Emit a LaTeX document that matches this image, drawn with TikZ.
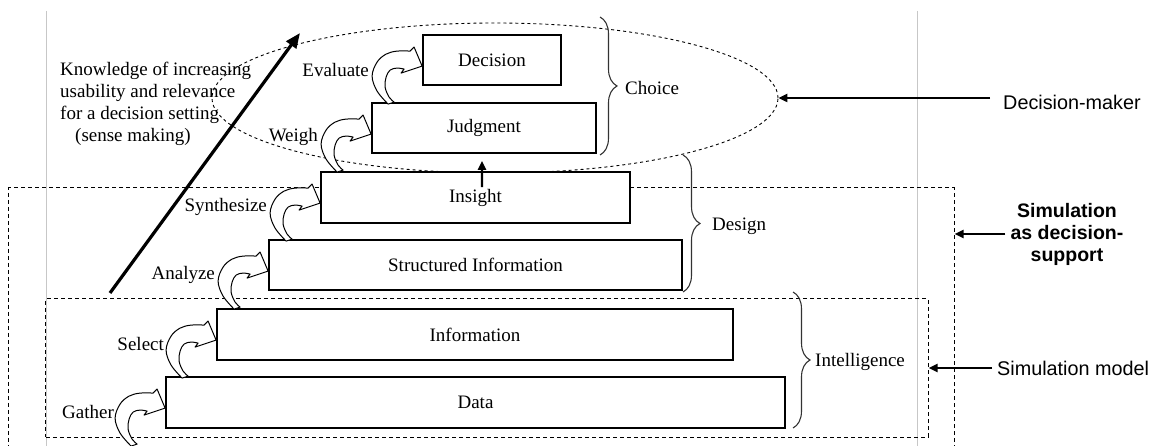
\documentclass[tikz,border=0pt]{standalone}
\usepackage{fontspec}
\setmainfont{Liberation Serif}
\newfontfamily\arialfont{Liberation Sans}
\usetikzlibrary{decorations.pathreplacing,arrows.meta,shapes.geometric,calc}

\tikzset{
  serifsz/.style={font=\fontsize{19bp}{22bp}\selectfont},
  stage/.style={draw, line width=1.8bp, fill=white, minimum height=50bp,
    inner sep=0pt, serifsz},
  steplabel/.style={inner sep=0pt, anchor=east, serifsz},
  phaselabel/.style={inner sep=0pt, anchor=west, serifsz},
  sidelabel/.style={inner sep=0pt, font=\arialfont\fontsize{19.8bp}{22bp}\selectfont},
  dashbox/.style={draw, line width=1bp, dash pattern=on 4bp off 3bp, inner sep=0pt},
  phasebrace/.style={draw=black!80, line width=1.1bp,
    decorate, decoration={brace, amplitude=17bp}},
  pointer/.style={line width=2.2bp, -{Triangle[length=9bp,width=8bp]}},
  frameline/.style={draw=black!22, line width=0.9bp},
  stepturn/.pic={
    \draw[line width=1bp, fill=white, line join=round]
      plot[smooth, tension=0.6] coordinates {(-34,38) (-45,25) (-50,10) (-45,-4) (-36,-12) (-25,-15) (-12,-15)}
      -- (-8,-19) -- (0,0) -- (-21,7)
      -- plot[smooth, tension=0.6] coordinates {(-18,3) (-25,2) (-32,4) (-36,11) (-37,21) (-33,31) (-28,36)}
      -- cycle;
  }
}

\begin{document}
\begin{tikzpicture}[x=1bp, y=-1bp]
\useasboundingbox (0,0) rectangle (1154,446);
\clip (0,0) rectangle (1154,446);

% frame of the figure
\draw[frameline] (46,11) -- (46,446);
\draw[frameline] (917,11) -- (917,446);

% simulation regions
\node[dashbox, minimum width=945bp, minimum height=282bp] (supportbox) at (481.5,329) {};
\node[dashbox, minimum width=882bp, minimum height=138bp] (modelbox) at (487,368) {};

% decision-maker region
\node[ellipse, draw, line width=0.9bp, dash pattern=on 3bp off 3bp,
      minimum width=566bp, minimum height=150bp, inner sep=0pt] (dm) at (495,98) {};

% knowledge arrow
\coordinate (kbase) at (110,293);
\coordinate (ktop) at (300,33);
\draw[line width=3.2bp, -{Triangle[length=15bp,width=12bp]}] (kbase) -- (ktop);
\node[inner sep=0pt, anchor=west, align=left, serifsz] (knowledge) at (60,104)
  {Knowledge of increasing\\usability and relevance\\for a decision setting\\\hspace*{15bp}(sense making)};

% stages
\node[stage, minimum width=619bp, minimum height=51bp] (data) at (475.5,402.5) {Data};
\node[stage, minimum width=516bp, minimum height=51bp] (information) at (475,334.5) {Information};
\node[stage, minimum width=413bp] (structured) at (475.5,265) {Structured Information};
\node[stage, minimum width=309bp, minimum height=51bp] (insight) at (475.5,197.5) {Insight};
\node[stage, minimum width=224bp] (judgment) at (484,128) {Judgment};
\node[stage, minimum width=138bp] (decision) at (492,60) {Decision};

% insight reaches the decision-maker
\draw[line width=2.2bp, -{Triangle[length=9bp,width=8bp]}]
  ([xshift=6.5bp,yshift=-16bp]insight.north) -- ([xshift=-2bp,yshift=-7bp]judgment.south);

% step labels
\node[steplabel] (gather) at ($(data.north west)+(-51,36)$) {Gather};
\node[steplabel] (select) at ($(information.north west)+(-52,36)$) {Select};
\node[steplabel] (analyze) at ($(structured.north west)+(-53,36)$) {Analyze};
\node[steplabel] (synthesize) at ($(insight.north west)+(-53,36)$) {Synthesize};
\node[steplabel] (weigh) at ($(judgment.north west)+(-53,35)$) {Weigh};
\node[steplabel] (evaluate) at ($(decision.north west)+(-53,36)$) {Evaluate};

% step arrows
\pic at ($(data.north west)+(0,32)$) {stepturn};
\pic at ($(information.north west)+(0,32)$) {stepturn};
\pic at ($(structured.north west)+(0,32)$) {stepturn};
\pic at ($(insight.north west)+(0,32)$) {stepturn};
\pic at ($(judgment.north west)+(0,32)$) {stepturn};
\pic at ($(decision.north west)+(0,32)$) {stepturn};

% phases
\draw[phasebrace] (600,17) -- (600,155);
\draw[phasebrace] (683,155) -- (683,292);
\draw[phasebrace] (793,292) -- (793,428);
\node[phaselabel] (choice) at (625,88) {Choice};
\node[phaselabel] (design) at (712,226) {Design};
\node[phaselabel] (intelligence) at (815,362) {Intelligence};

% side labels
\node[sidelabel, anchor=west] (dmtext) at (1003,102) {Decision-maker};
\draw[pointer] ([xshift=-13bp]dmtext.west |- dm.east) -- (dm.east);

\node[sidelabel, font=\arialfont\bfseries\fontsize{19.5bp}{22bp}\selectfont, align=center]
  (simsupport) at (1067,234) {Simulation\\as decision-\\support};
\draw[pointer] ([xshift=-5bp]simsupport.west) -- (simsupport.west -| supportbox.east);

\node[sidelabel, anchor=west] (simmodel) at (997,368) {Simulation model};
\draw[pointer] ([xshift=-5bp]simmodel.west) -- (simmodel.west -| modelbox.east);
\end{tikzpicture}
\end{document}
